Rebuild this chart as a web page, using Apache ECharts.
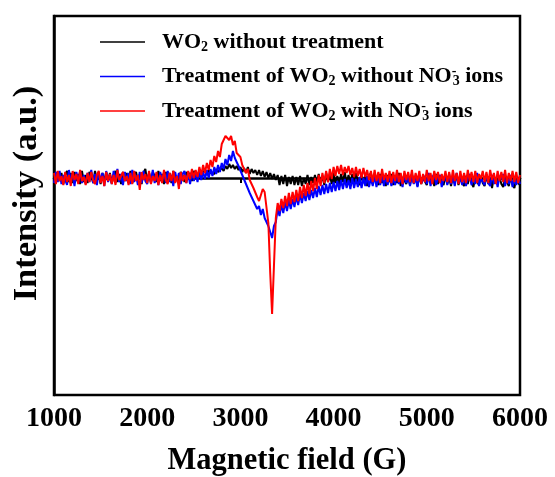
<!DOCTYPE html>
<html>
<head>
<meta charset="utf-8">
<script src="https://cdn.jsdelivr.net/npm/echarts@6/dist/echarts.min.js"></script>
<style>html,body{margin:0;padding:0;background:#fff}#c{width:555px;height:477px}</style>
</head>
<body>
<div id="c"></div>
<script>
// Sampling grid of the spectra (Gauss)
var fieldStart = 1000, fieldStep = 20;
var xTicks = [1000, 2000, 3000, 4000, 5000, 6000];
var seriesNames = ['WO2 without treatment', 'Treatment of WO2 without NO3- ions', 'Treatment of WO2 with NO3- ions'];

var blackValues = [
4,-5,6,-3,5,-6,3,7,-4,5,
-5,6,-3,4,-6,7,-4,3,-5,6,
2,-5,7,-3,4,-6,5,-4,6,-3,
5,-5,3,7,-4,4,-6,6,-3,5,
-4,7,-5,3,6,-3,4,-6,5,9,
-3,5,-5,6,2,-4,7,-3,4,-6,
6,-3,5,-5,7,2,4,-4,6,3,
-4,6,2,5,-3,7,3,5,2,6,
4,7,3,8,5,7,4,9,6,8,
10,7,12,9,14,10,13,9,12,8,
11,6,10,5,11,4,9,5,8,3,
8,2,7,1,6,0,5,-1,4,-2,
3,-7,2,-6,3,-8,1,-6,2,-7,
1,-7,2,-8,0,-6,3,-7,1,-5,
3,-6,4,-5,2,-7,5,-4,3,-6,
5,-5,2,-7,4,-4,6,-6,3,-5,
4,-6,5,-3,-7,4,-5,3,-8,2,
5,-6,3,-4,-7,4,-5,2,-8,3,
-4,4,-7,2,-5,5,-8,1,3,-6,
2,-7,4,-5,1,-8,3,-6,0,2,
-7,3,-5,1,-8,4,-6,2,-4,-7,
3,-6,0,-8,2,-5,4,-7,1,-5,
-8,2,-6,3,-5,-9,1,-4,-7,2,
-5,-8,3,-6,0,-10,2,-5,-7,1,
-6,-9,2,-4,-8,1,-7,-10,0,-5,
-7
];

var blueValues = [
-5,6,-4,7,-6,3,5,-7,8,-3,
4,-8,6,-4,7,-5,3,-6,5,-4,
8,-5,4,-7,6,-3,5,-8,7,-4,
3,-6,7,-5,9,-4,4,-7,6,-3,
5,-6,8,-4,3,-7,6,-5,7,-3,
-6,5,-4,8,-5,4,-7,6,-3,5,
-5,7,-4,3,-8,6,-3,5,-6,4,
7,-5,4,-6,6,-3,5,-4,7,-2,
6,-1,8,0,9,2,11,4,13,6,
15,9,19,13,23,17,27,20,22,12,
14,3,5,-6,-4,-15,-13,-23,-21,-31,
-28,-37,-31,-40,-38,-48,-50,-60,-48,-44,
-31,-38,-26,-35,-24,-33,-22,-31,-21,-29,
-18,-27,-16,-25,-15,-23,-13,-22,-12,-20,
-10,-19,-8,-17,-7,-16,-6,-15,-5,-14,
-4,-13,-3,-12,-2,-11,-1,-10,-2,-11,
0,-10,-1,-9,1,-10,0,-8,2,-9,
0,-8,3,-9,1,-7,4,-8,1,-7,
3,-8,0,-7,5,-6,2,-9,4,-5,
1,-8,4,-6,0,-9,3,-5,-7,2,
-6,5,-8,1,4,-7,0,3,-9,-1,
2,-7,4,-6,1,-8,5,-5,0,-7,
3,-8,0,4,-7,1,-6,5,-8,0,
2,-7,4,-5,-8,3,-6,0,-9,2,
-1,4,-8,1,-6,3,-9,0,-7,1,
-6
];

var redValues = [
5,-6,7,-3,2,-7,6,-4,3,-8,
7,-2,4,-6,8,-3,1,-7,5,-4,
6,-2,-6,3,7,-5,2,-8,6,-3,
4,-6,3,-7,8,-2,-4,6,-3,2,
-7,5,-6,7,-3,3,-12,6,-2,4,
-5,7,-6,2,-3,6,-7,3,-5,8,
-2,-6,5,-3,7,-5,2,-11,6,-3,
3,-5,7,-1,9,0,8,1,11,3,
13,5,15,8,18,11,22,16,27,21,
34,33,42,42,38,42,33,37,25,27,
21,13,15,5,9,-2,0,-10,-9,-19,
-23,-17,-11,-14,-15,-45,-95,-136,-88,-40,
-25,-33,-21,-30,-18,-28,-15,-26,-14,-24,
-12,-23,-9,-20,-7,-18,-5,-16,-3,-13,
0,-11,3,-8,5,-5,7,-4,9,-1,
11,2,12,4,13,3,11,5,12,3,
10,1,11,2,9,0,10,1,8,-2,
7,-4,8,-3,6,-5,9,-2,5,-4,
7,-5,6,-3,8,-4,5,-6,7,-2,
6,-4,8,-5,5,-3,7,-6,4,-4,
8,-3,5,-6,7,-2,6,-5,4,-3,
7,-4,6,-5,8,-3,5,-6,7,-4,
5,-5,8,-3,6,-4,7,-5,4,-1,
7,-4,6,-5,8,-2,5,-6,7,-3,
6,-4,8,-5,5,-3,7,-4,6,-5,
3
];

function pair(vals) {
  return vals.map(function (v, i) { return [fieldStart + fieldStep * i, v]; });
}

var legendRich = {
  sub: { fontFamily: 'Liberation Serif', fontWeight: 'bold', fontSize: 14, color: '#000', padding: [10, 0, 0, 0] },
  sup: { fontFamily: 'Liberation Serif', fontWeight: 'bold', fontSize: 14, color: '#000', padding: [0, 0, 10, 0], width: 1 }
};
var legendLabels = {};
legendLabels[seriesNames[0]] = 'WO{sub|2} without treatment';
legendLabels[seriesNames[1]] = 'Treatment of WO{sub|2} without NO{sup|-}{sub|3} ions';
legendLabels[seriesNames[2]] = 'Treatment of WO{sub|2} with NO{sup|-}{sub|3} ions';

var chart = echarts.init(document.getElementById('c'), null, { renderer: 'canvas' });
var font = 'Liberation Serif';
chart.setOption({
  animation: false,
  backgroundColor: '#fff',
  grid: { left: 54, right: 35, top: 16, bottom: 82, containLabel: false, outerBoundsMode: 'none',
    show: true, borderColor: '#000', borderWidth: 2.5, backgroundColor: 'transparent' },
  legend: {
    orient: 'vertical', left: 95, top: 26, itemWidth: 45, itemHeight: 1.5, itemGap: 10.5, icon: 'rect',
    data: seriesNames,
    formatter: function (n) { return legendLabels[n]; },
    textStyle: { fontFamily: font, fontWeight: 'bold', fontSize: 22, color: '#000', padding: [0, 0, 0, 12], rich: legendRich }
  },
  xAxis: {
    type: 'value', min: 1000, max: 6000, interval: 1000,
    name: 'Magnetic field (G)', nameLocation: 'middle', nameGap: 51,
    nameTextStyle: { fontFamily: font, fontWeight: 'bold', fontSize: 30.5, color: '#000' },
    axisLine: { show: true, lineStyle: { color: '#000', width: 2.5 } },
    axisTick: { show: true, inside: false, length: 5, lineStyle: { color: '#000', width: 2 } },
    minorTick: { show: true, splitNumber: 2, length: 3, lineStyle: { color: '#000', width: 2 } },
    axisLabel: { fontFamily: font, fontWeight: 'bold', fontSize: 28, color: '#000', margin: 10,
      formatter: function (v) { return xTicks.indexOf(v) >= 0 ? String(v) : ''; } },
    splitLine: { show: false }
  },
  yAxis: {
    type: 'value', min: -217, max: 162,
    name: 'Intensity (a.u.)', nameLocation: 'middle', nameGap: 9,
    nameTextStyle: { fontFamily: font, fontWeight: 'bold', fontSize: 34.5, color: '#000', padding: [0, 0, 0, 24] },
    axisLine: { show: true, lineStyle: { color: '#000', width: 2.5 } },
    axisTick: { show: false }, axisLabel: { show: false }, splitLine: { show: false }
  },
  series: [
    { name: seriesNames[0], type: 'line', data: pair(blackValues), symbol: 'none', color: '#000000', lineStyle: { width: 2, color: '#000000' } },
    { name: seriesNames[1], type: 'line', data: pair(blueValues), symbol: 'none', color: '#0000ff', lineStyle: { width: 2, color: '#0000ff' } },
    { name: seriesNames[2], type: 'line', data: pair(redValues), symbol: 'none', color: '#ff0000', lineStyle: { width: 2, color: '#ff0000' } }
  ]
});
</script>
</body>
</html>
